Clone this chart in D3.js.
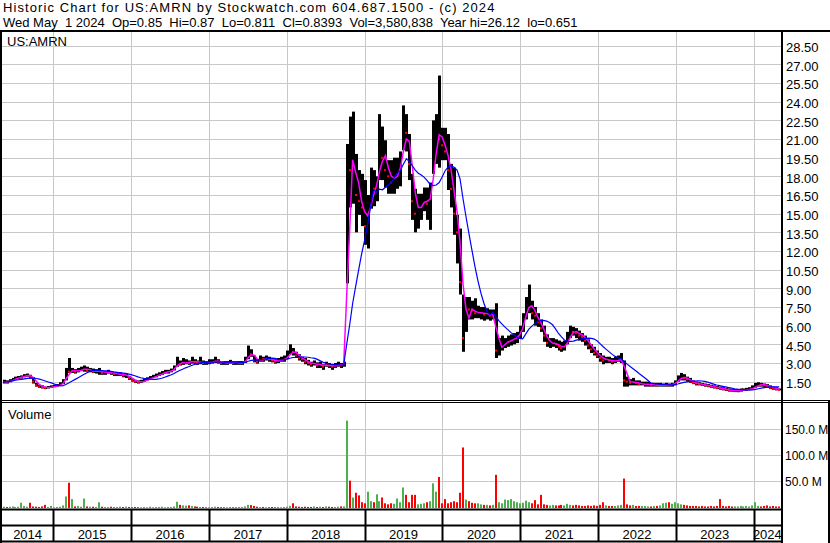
<!DOCTYPE html>
<html>
<head>
<meta charset="utf-8">
<script src="https://cdn.jsdelivr.net/npm/d3@7"></script>
<style>
  body { margin: 0; background: #fff; }
  svg { display: block; font-family: Arial, "Liberation Sans", sans-serif; }
</style>
</head>
<body>
<svg id="canvas"></svg>
<script>
// biweekly bars, May 2014 .. Apr 2024
let hi = [
  1.65,1.6,1.7,1.8,1.9,1.95,2.0,2.1,2.15,2.05,
  1.85,1.4,1.25,1.2,1.1,1.15,1.2,1.25,1.3,1.45,
  1.7,2.6,3.4,2.6,2.5,2.6,2.7,2.8,2.7,2.6,
  2.55,2.5,2.6,2.4,2.35,2.45,2.35,2.25,2.25,2.25,
  2.15,2.15,1.95,1.75,1.65,1.6,1.65,1.75,1.85,1.95,
  2.05,2.15,2.25,2.35,2.45,2.45,2.55,2.8,3.5,3.2,
  3.4,3.3,3.2,3.5,3.3,3.2,3.5,3.2,3.15,3.3,
  3.3,3.5,3.3,3.15,3.15,3.15,3.25,3.15,3.15,3.15,
  3.15,3.5,4.4,4.1,3.6,3.3,3.6,3.5,3.6,3.5,
  3.4,3.3,3.4,3.5,3.6,4.0,4.5,4.2,3.9,3.7,
  3.5,3.4,3.25,3.1,3.2,3.05,3.1,2.9,3.1,3.0,
  2.9,3.0,3.1,3.0,3.1,20.6,22.8,23.2,19.8,18.5,
  18.2,17.7,16.5,18.7,18.5,18.0,23.0,22.0,20.9,19.3,
  19.3,19.5,19.5,20.0,23.7,23.0,21.4,18.2,17.0,16.6,
  16.6,17.1,17.1,17.5,22.5,23.0,26.1,21.9,21.9,21.4,
  19.0,18.7,14.9,13.8,8.5,8.3,8.3,8.0,8.2,7.6,
  7.5,7.5,7.4,7.3,7.3,7.8,5.0,5.2,5.0,5.2,
  5.3,5.4,5.5,6.0,7.0,8.3,9.3,8.0,7.5,7.0,
  6.5,6.0,5.3,5.0,5.0,4.9,4.8,4.7,4.8,5.5,
  6.0,5.9,5.8,5.6,5.4,5.2,4.9,4.5,4.3,4.0,
  3.8,3.6,3.5,3.5,3.4,3.5,3.6,3.8,3.2,1.9,
  1.7,1.8,1.6,1.6,1.5,1.5,1.5,1.4,1.4,1.4,
  1.4,1.35,1.4,1.35,1.4,1.6,2.0,2.2,2.1,1.9,
  1.8,1.6,1.5,1.45,1.4,1.35,1.3,1.25,1.2,1.15,
  1.1,1.05,1.0,0.95,0.9,0.9,0.9,0.95,0.95,1.0,
  1.05,1.2,1.4,1.45,1.4,1.35,1.3,1.2,1.1,1.05,
  0.95
]
let lo = [
  1.35,1.35,1.45,1.55,1.65,1.7,1.75,1.85,1.9,1.75,
  1.35,1.1,1.0,0.95,0.9,0.95,1.0,1.05,1.1,1.2,
  1.3,1.6,2.2,2.2,2.15,2.25,2.35,2.3,2.3,2.25,
  2.2,2.15,2.05,2.05,2.05,2.15,2.05,1.95,1.95,1.95,
  1.85,1.8,1.65,1.5,1.4,1.35,1.4,1.5,1.6,1.7,
  1.8,1.85,1.95,2.05,2.15,2.15,2.25,2.4,2.7,2.8,
  2.85,2.9,2.85,2.95,2.9,2.85,2.9,2.85,2.85,2.9,
  2.95,3.0,2.95,2.85,2.85,2.85,2.95,2.85,2.85,2.85,
  2.85,3.0,3.3,3.5,3.05,2.95,3.1,3.1,3.2,3.1,
  3.05,2.95,3.0,3.1,3.1,3.3,3.7,3.6,3.4,3.2,
  3.1,2.9,2.8,2.7,2.8,2.6,2.6,2.45,2.7,2.6,
  2.45,2.6,2.7,2.6,2.7,9.4,15.5,15.8,13.5,14.9,
  14.0,12.5,12.2,15.4,15.6,16.0,17.7,17.7,17.1,16.6,
  16.6,16.6,17.0,17.2,20.1,20.0,17.7,14.5,13.5,13.8,
  14.5,15.2,14.5,13.7,18.2,19.0,18.7,19.3,19.3,16.9,
  15.5,13.3,11.0,8.5,3.9,5.5,6.5,6.5,6.6,6.6,
  6.5,6.4,6.5,6.4,6.5,3.4,3.6,4.0,4.2,4.3,
  4.4,4.5,4.6,5.0,5.5,6.5,7.0,6.5,6.0,5.9,
  5.5,4.7,4.3,4.2,4.3,4.2,4.0,3.9,4.0,4.5,
  5.0,5.2,5.0,4.8,4.7,4.4,4.1,3.8,3.6,3.4,
  3.1,2.9,3.0,3.0,2.9,3.0,3.1,3.0,1.1,1.1,
  1.2,1.2,1.2,1.2,1.2,1.1,1.1,1.1,1.1,1.1,
  1.1,1.1,1.1,1.1,1.1,1.2,1.5,1.6,1.6,1.5,
  1.4,1.3,1.2,1.2,1.15,1.1,1.05,1.0,0.95,0.9,
  0.85,0.8,0.75,0.7,0.68,0.66,0.65,0.7,0.75,0.75,
  0.8,0.85,1.0,1.1,1.1,1.05,1.0,0.9,0.85,0.8,
  0.8
]
let cl = [
  1.5,1.45,1.6,1.7,1.8,1.85,1.9,2.0,2.05,1.9,
  1.5,1.2,1.1,1.05,1.0,1.05,1.1,1.15,1.2,1.3,
  1.55,2.4,2.3,2.45,2.3,2.4,2.5,2.6,2.4,2.4,
  2.3,2.3,2.4,2.2,2.2,2.3,2.2,2.1,2.1,2.1,
  2.0,2.0,1.8,1.6,1.5,1.45,1.5,1.6,1.7,1.8,
  1.9,2.0,2.1,2.2,2.3,2.3,2.4,2.6,3.2,2.9,
  3.0,3.1,3.0,3.2,3.1,3.0,3.1,3.0,3.0,3.1,
  3.1,3.2,3.1,3.0,3.0,3.0,3.1,3.0,3.0,3.0,
  3.0,3.3,4.0,3.7,3.2,3.1,3.4,3.3,3.4,3.3,
  3.2,3.1,3.2,3.3,3.3,3.6,4.1,3.9,3.6,3.4,
  3.3,3.1,3.0,2.9,3.0,2.8,2.9,2.7,2.9,2.8,
  2.7,2.8,2.9,2.8,2.9,19.5,18.5,20.0,16.5,16.0,
  15.5,14.0,15.0,17.5,17.0,17.2,21.0,19.5,18.5,18.0,
  17.5,18.0,18.5,19.5,22.0,21.5,19.0,16.0,15.0,15.5,
  16.0,16.2,15.8,16.5,21.0,22.0,21.0,20.5,20.0,18.5,
  17.0,15.0,13.5,9.5,5.0,7.5,7.3,7.2,7.0,7.0,
  7.1,6.9,6.9,6.8,6.9,4.0,4.2,4.6,4.6,4.8,
  4.9,5.0,5.1,5.7,6.5,7.8,8.0,7.0,6.8,6.3,
  5.8,5.2,4.6,4.6,4.6,4.5,4.3,4.2,4.4,5.2,
  5.7,5.5,5.4,5.2,5.1,4.8,4.4,4.1,3.8,3.6,
  3.4,3.2,3.3,3.2,3.1,3.2,3.3,3.3,1.6,1.5,
  1.4,1.5,1.4,1.3,1.3,1.3,1.3,1.2,1.25,1.2,
  1.2,1.2,1.25,1.2,1.3,1.5,1.8,1.9,1.8,1.7,
  1.5,1.4,1.35,1.3,1.25,1.2,1.15,1.1,1.05,1.0,
  0.95,0.9,0.85,0.8,0.75,0.75,0.78,0.8,0.85,0.88,
  0.9,1.05,1.2,1.3,1.25,1.2,1.1,1.0,0.95,0.9,
  0.84
]
// volume, millions
let vol = [
  1.5,1,1.5,2,1,1.5,9,3,1.5,9,
  2,1.5,1,2,5,1,3,0.5,1,1.5,
  4,21,47,16,2,3,1.5,17,2,1.5,
  1.5,1,10,1.5,1,1,1.5,0.5,1,1.5,
  1,1.5,1,0.5,1,0.5,0.5,1,0.5,1.5,
  0.5,1,1,1.5,0.5,1,1,2,11,5,
  4,3.5,4,3,2,1.5,1,1,1,0.5,
  1,1.5,1,0.5,1,0.5,1,0.5,1,1,
  1,2,5,4.5,3,1.5,1,1,0.5,0.5,
  1,0.5,1,0.5,1,1.5,3,8,2,1.5,
  1,1.5,1,1,2,1,1.5,1,2,1.5,
  1,1,1.5,2,2,165,51,19,28,23,
  10,8,30,12,10,25,12,19,8,6,
  8,7,17,10,38,24,10,24,24,6,
  7,8,10,12,46,30,58,8,16,8,
  10,12,10,28,114,15,12,9,8,8,
  6,5,5,4,5,62,10,8,15,14,
  16,12,10,8,9,13,10,8,14,6,
  24,6,5,4,5,4,4,5,4,7,
  5,4,5,4,3,3,4,3,4,3,
  5,10,4,3,3,3,4,5,55,6,
  4,5,3,3,3,3,2,2,3,3,
  4,8,9,10,7,10,8,6,5,4,
  3,3,3,2,3,2,2,3,2,3,
  16,3,2,3,2,2,2,3,2,3,
  2,4,10,3,2,3,4,2,3,2,
  2
]
let priceTicks = [1.5, 3, 4.5, 6, 7.5, 9, 10.5, 12, 13.5, 15, 16.5, 18, 19.5, 21, 22.5, 24, 25.5, 27, 28.5]
let volTicks = [50, 100, 150]
let years = [2014, 2015, 2016, 2017, 2018, 2019, 2020, 2021, 2022, 2023, 2024]
let title1 = 'Historic Chart for US:AMRN by Stockwatch.com 604.687.1500 - (c) 2024'
let title2 = 'Wed May  1 2024  Op=0.85  Hi=0.87  Lo=0.811  Cl=0.8393  Vol=3,580,838  Year hi=26.12  lo=0.651'

let width = 830
let height = 543
let plotL = 2
let plotR = 781
let gridColor = '#c8c8c8'

let start = new Date(2014, 4, 13)
let dates = cl.map((d, i) => d3.timeDay.offset(start, i * 14))

let canvas = d3.select('#canvas')
canvas.attr('width', width).attr('height', height)

let xScale = d3.scaleTime()
  .domain([new Date(2014, 4, 1), new Date(2024, 4, 1)])
  .range([1, 779.5])
let yScale = d3.scaleLinear().domain([0, 29.6]).range([400.3, 32])
let vScale = d3.scaleLinear().domain([0, 150]).range([507.5, 428.5])

let yearStarts = years.slice(1).map(y => new Date(y, 0, 1))

/* clip areas */
let defs = canvas.append('defs')
defs.append('clipPath').attr('id', 'clipP')
  .append('rect').attr('x', plotL).attr('y', 32).attr('width', plotR - plotL).attr('height', 368)
defs.append('clipPath').attr('id', 'clipV')
  .append('rect').attr('x', plotL).attr('y', 403).attr('width', plotR - plotL).attr('height', 105)

/* grid */
let grid = canvas.append('g')
grid.selectAll('.hp').data(priceTicks).enter().append('line')
  .attr('x1', plotL).attr('x2', plotR)
  .attr('y1', d => Math.round(yScale(d)) + 0.5).attr('y2', d => Math.round(yScale(d)) + 0.5)
  .attr('stroke', gridColor)
grid.selectAll('.hv').data(volTicks).enter().append('line')
  .attr('x1', plotL).attr('x2', plotR)
  .attr('y1', d => Math.round(vScale(d)) + 0.5).attr('y2', d => Math.round(vScale(d)) + 0.5)
  .attr('stroke', gridColor)
grid.selectAll('.vp').data(yearStarts).enter().append('line')
  .attr('x1', d => Math.round(xScale(d)) + 0.5).attr('x2', d => Math.round(xScale(d)) + 0.5)
  .attr('y1', 32).attr('y2', 400)
  .attr('stroke', gridColor)
grid.selectAll('.vv').data(yearStarts).enter().append('line')
  .attr('x1', d => Math.round(xScale(d)) + 0.5).attr('x2', d => Math.round(xScale(d)) + 0.5)
  .attr('y1', 403).attr('y2', 508)
  .attr('stroke', gridColor)

/* price bars */
let bars = dates.map((d, i) => ({ date: d, hi: hi[i], lo: lo[i], cl: cl[i], vol: vol[i], up: i === 0 || cl[i] >= cl[i - 1] }))

let price = canvas.append('g').attr('clip-path', 'url(#clipP)')
price.selectAll('rect.bar').data(bars).enter().append('rect')
  .attr('class', 'bar')
  .attr('x', d => Math.round(xScale(d.date)) - 1)
  .attr('y', d => yScale(d.hi))
  .attr('width', 3)
  .attr('height', d => Math.max(1, yScale(d.lo) - yScale(d.hi)))
  .attr('fill', '#000')
price.selectAll('rect.dn').data(bars.filter(d => !d.up)).enter().append('rect')
  .attr('class', 'dn')
  .attr('x', d => Math.round(xScale(d.date)) - 1)
  .attr('y', d => yScale(d.cl) - 1)
  .attr('width', 2)
  .attr('height', 2)
  .attr('fill', '#ff0000')

function movingAvg(values, n) {
  return values.map((v, i) => d3.mean(values.slice(Math.max(0, i - n + 1), i + 1)))
}
let maShort = movingAvg(cl, 3)
let maLong = movingAvg(cl, 10)

let line = d3.line().x((d, i) => xScale(dates[i])).y(d => yScale(d))
price.append('path').datum(maShort)
  .attr('d', line).attr('fill', 'none').attr('stroke', '#ff00ff').attr('stroke-width', 1.5)
price.append('path').datum(maLong)
  .attr('d', line).attr('fill', 'none').attr('stroke', '#0000ff').attr('stroke-width', 1.2)

/* volume */
let volume = canvas.append('g').attr('clip-path', 'url(#clipV)')
volume.selectAll('rect').data(bars).enter().append('rect')
  .attr('x', d => Math.round(xScale(d.date)) - 1)
  .attr('y', d => vScale(d.vol))
  .attr('width', 2)
  .attr('height', d => 508 - vScale(d.vol))
  .attr('fill', d => d.up ? '#4cb04c' : '#ff0000')

/* frame */
let frame = canvas.append('g').attr('stroke', '#000')
frame.append('line').attr('x1', 0).attr('x2', width).attr('y1', 31).attr('y2', 31).attr('stroke-width', 2)
frame.append('line').attr('x1', 1).attr('x2', 1).attr('y1', 30).attr('y2', height).attr('stroke-width', 2)
frame.append('line').attr('x1', 782).attr('x2', 782).attr('y1', 30).attr('y2', height).attr('stroke-width', 2)
frame.append('line').attr('x1', 829).attr('x2', 829).attr('y1', 401).attr('y2', height).attr('stroke-width', 2)
frame.append('line').attr('x1', 0).attr('x2', width).attr('y1', 400.5).attr('y2', 400.5).attr('stroke-width', 1)
frame.append('line').attr('x1', 0).attr('x2', width).attr('y1', 402.5).attr('y2', 402.5).attr('stroke-width', 1)
frame.append('line').attr('x1', 0).attr('x2', 783).attr('y1', 509.5).attr('y2', 509.5).attr('stroke-width', 2)
frame.append('line').attr('x1', 0).attr('x2', 783).attr('y1', 525.5).attr('y2', 525.5).attr('stroke-width', 2)
frame.append('line').attr('x1', 0).attr('x2', 783).attr('y1', 541.5).attr('y2', 541.5).attr('stroke-width', 2)
frame.selectAll('.sep').data(yearStarts).enter().append('line')
  .attr('x1', d => Math.round(xScale(d)) + 0.5).attr('x2', d => Math.round(xScale(d)) + 0.5)
  .attr('y1', 510).attr('y2', 542)
  .attr('stroke-width', 2)

/* axes on the right */
let priceAxis = d3.axisRight(yScale).tickValues(priceTicks).tickFormat(d3.format('.2f')).tickSize(0).tickPadding(0)
canvas.append('g').attr('transform', 'translate(786,0)').call(priceAxis)
  .call(g => g.select('.domain').remove())
  .selectAll('text').attr('font-size', 13).attr('font-family', 'Arial, "Liberation Sans", sans-serif').attr('fill', '#000').attr('dy', '0.45em')

let volAxis = d3.axisRight(vScale).tickValues(volTicks).tickFormat(d => d.toFixed(1) + ' M').tickSize(0).tickPadding(0)
canvas.append('g').attr('transform', 'translate(785,0)').call(volAxis)
  .call(g => g.select('.domain').remove())
  .selectAll('text').attr('font-size', 12).attr('font-family', 'Arial, "Liberation Sans", sans-serif').attr('fill', '#000').attr('dy', '0.4em')

/* year labels */
let bounds = [plotL].concat(yearStarts.map(d => xScale(d)), [plotR])
canvas.append('g').selectAll('text').data(years).enter().append('text')
  .attr('x', (d, i) => (bounds[i] + bounds[i + 1]) / 2)
  .attr('y', 539)
  .attr('text-anchor', 'middle')
  .attr('font-size', 13)
  .text(d => d)

/* texts */
canvas.append('text').attr('x', 3).attr('y', 11.5).attr('font-size', 13)
  .style('letter-spacing', '1.08px').text(title1)
canvas.append('text').attr('x', 3).attr('y', 26.5).attr('font-size', 13)
  .attr('xml:space', 'preserve').style('white-space', 'pre').text(title2)
canvas.append('text').attr('x', 7).attr('y', 45.5).attr('font-size', 13).text('US:AMRN')
canvas.append('text').attr('x', 8).attr('y', 418.5).attr('font-size', 13).text('Volume')
</script>
</body>
</html>
